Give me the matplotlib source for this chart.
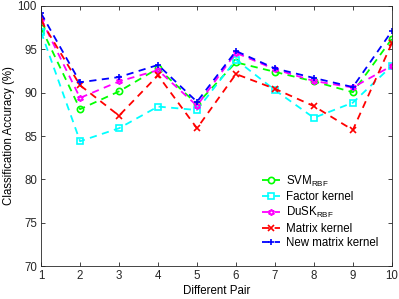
import matplotlib
matplotlib.use('Agg')
import matplotlib.pyplot as plt

plt.rcParams.update({'font.size': 8.3,
                     'font.family': 'Liberation Sans',
                     'mathtext.fontset': 'custom',
                     'mathtext.rm': 'Liberation Sans',
                     'mathtext.it': 'Liberation Sans:italic'})

pairs = [1, 2, 3, 4, 5, 6, 7, 8, 9, 10]

svm_rbf = [97.5, 88.1, 90.15, 92.8, 88.7, 93.5, 92.4, 91.3, 90.05, 96.2]
factor_kernel = [97.0, 84.4, 85.9, 88.4, 88.0, 93.8, 90.3, 87.1, 88.85, 93.1]
dusk_rbf = [98.5, 89.4, 91.3, 92.6, 88.5, 94.6, 92.7, 91.35, 90.6, 93.1]
matrix_kernel = [98.3, 90.85, 87.35, 92.0, 85.9, 92.15, 90.45, 88.45, 85.7, 95.7]
new_matrix_kernel = [99.15, 91.2, 91.8, 93.2, 88.95, 94.8, 92.8, 91.7, 90.65, 97.1]

fig = plt.figure(figsize=(3.99, 2.99), dpi=100)
ax = fig.add_axes([0.103, 0.110, 0.879, 0.870])

kw = dict(linestyle='--', linewidth=1.3, markersize=4.5, markerfacecolor='none',
          markeredgewidth=1.2, dashes=(4, 3))
ax.plot(pairs, svm_rbf, color=(0, 1, 0), marker='o', label=r'SVM$_{\mathrm{RBF}}$', **kw)
ax.plot(pairs, factor_kernel, color=(0, 1, 1), marker='s', label='Factor kernel', **kw)
ax.plot(pairs, dusk_rbf, color=(1, 0, 1), marker=(6, 1, 0), label=r'DuSK$_{\mathrm{RBF}}$', **kw)
ax.plot(pairs, matrix_kernel, color=(1, 0, 0), marker='x', label='Matrix kernel', **kw)
ax.plot(pairs, new_matrix_kernel, color=(0, 0, 1), marker='+', label='New matrix kernel', **kw)

ax.set_xlim(1, 10)
ax.set_ylim(70, 100)
ax.set_xticks(pairs)
ax.set_yticks([70, 75, 80, 85, 90, 95, 100])
ax.tick_params(direction='in', top=True, right=True, length=3, width=0.6,
               colors='#262626', pad=3)
for s in ax.spines.values():
    s.set_linewidth(0.6)
    s.set_color('#262626')

ax.set_xlabel('Different Pair', labelpad=2)
ax.set_ylabel('Classification Accuracy (%)', labelpad=2)

ax.legend(loc='lower right', bbox_to_anchor=(0.985, 0.035), frameon=False,
          handlelength=1.6, handletextpad=0.5, labelspacing=0.2, borderpad=0.2)

plt.savefig('out.png', dpi=100)
plt.close()
